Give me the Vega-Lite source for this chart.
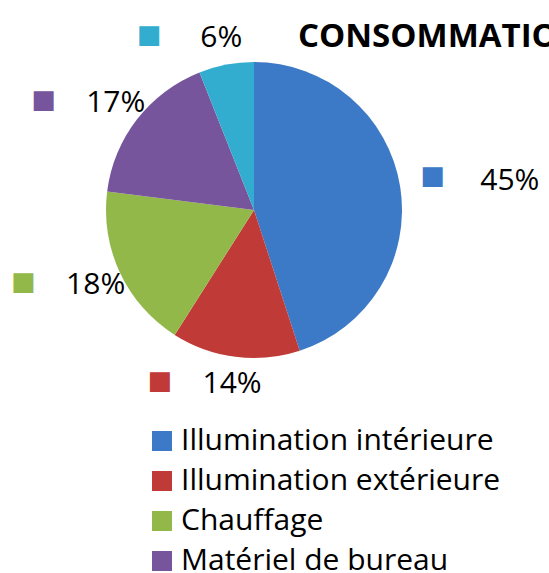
{
  "$schema": "https://vega.github.io/schema/vega-lite/v6.json",
  "autosize": "none",
  "width": 508,
  "height": 280,
  "padding": {"left": 0, "top": 70, "right": 41, "bottom": 223},
  "background": "white",
  "config": {"view": {"stroke": null}, "font": "Open Sans"},
  "title": {
    "text": "CONSOMMATION ÉLECTRIQUE",
    "anchor": "start",
    "orient": "top",
    "frame": "group",
    "font": "Open Sans",
    "fontSize": 33,
    "fontWeight": "bold",
    "color": "black",
    "dx": 298,
    "baseline": "bottom",
    "offset": -137
  },
  "data": {
    "values": [
      {"poste": "Illumination intérieure", "part": 0.45, "rang": 1},
      {"poste": "Illumination extérieure", "part": 0.14, "rang": 2},
      {"poste": "Chauffage", "part": 0.18, "rang": 3},
      {"poste": "Matériel de bureau", "part": 0.17, "rang": 4},
      {"poste": "Autres", "part": 0.06, "rang": 5}
    ]
  },
  "encoding": {
    "theta": {"field": "part", "type": "quantitative", "stack": true},
    "order": {"field": "rang", "type": "quantitative"},
    "color": {
      "field": "poste",
      "type": "nominal",
      "sort": ["Illumination intérieure", "Illumination extérieure", "Chauffage", "Matériel de bureau", "Autres"],
      "scale": {
        "domain": ["Illumination intérieure", "Illumination extérieure", "Chauffage", "Matériel de bureau", "Autres"],
        "range": ["#3C79C6", "#C03A37", "#93B84A", "#76559C", "#33ADCF"]
      },
      "legend": {
        "orient": "none",
        "legendX": 147,
        "legendY": 356,
        "title": null,
        "symbolType": "square",
        "symbolSize": 400,
        "symbolStrokeWidth": 0,
        "labelFont": "Open Sans",
        "labelFontSize": 30,
        "labelColor": "black",
        "labelLimit": 500,
        "labelOffset": 4,
        "rowPadding": 10
      }
    }
  },
  "layer": [
    {
      "mark": {"type": "arc", "outerRadius": 148, "strokeWidth": 0}
    },
    {
      "mark": {"type": "text", "font": "Open Sans", "fontSize": 30, "align": "center", "baseline": "middle", "radius": 175},
      "encoding": {
        "text": {"field": "part", "type": "quantitative", "format": ".0%"},
        "color": {"value": "black"},
        "opacity": {"condition": {"test": "datum.rang == 1", "value": 0}, "value": 1}
      }
    },
    {
      "mark": {"type": "text", "font": "Open Sans", "fontSize": 30, "align": "center", "baseline": "middle", "radius": 259, "dy": 12},
      "encoding": {
        "text": {"field": "part", "type": "quantitative", "format": ".0%"},
        "color": {"value": "black"},
        "opacity": {"condition": {"test": "datum.rang == 1", "value": 1}, "value": 0}
      }
    },
    {
      "mark": {"type": "text", "font": "DejaVu Sans", "fontSize": 26, "align": "center", "baseline": "middle", "radius": 175, "dx": -72, "dy": -3, "text": "■"},
      "encoding": {
        "opacity": {"condition": {"test": "datum.rang == 1", "value": 0}, "value": 1}
      }
    },
    {
      "mark": {"type": "text", "font": "DejaVu Sans", "fontSize": 26, "align": "center", "baseline": "middle", "radius": 259, "dx": -77, "dy": 7, "text": "■"},
      "encoding": {
        "opacity": {"condition": {"test": "datum.rang == 1", "value": 1}, "value": 0}
      }
    }
  ]
}
